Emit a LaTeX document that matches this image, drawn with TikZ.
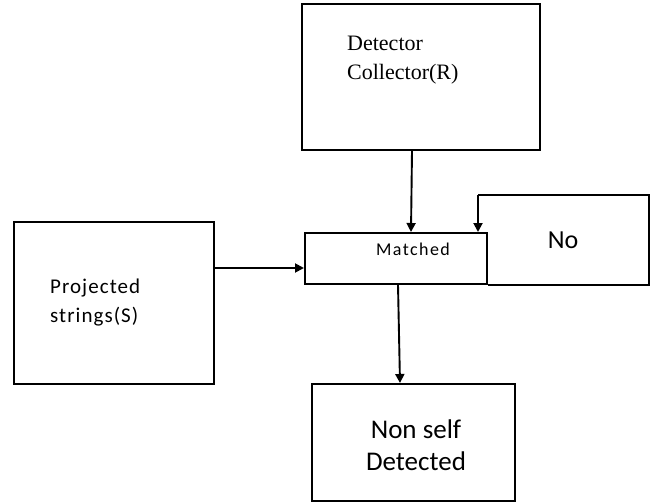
\documentclass[tikz,border=0pt]{standalone}
\usepackage{fontspec}
\setmainfont{Carlito}
\newfontfamily\serifface{Liberation Serif}
\usetikzlibrary{arrows.meta}
\begin{document}
\begin{tikzpicture}[x=1pt,y=-1pt,
  box/.style={draw,line width=1.9pt,inner sep=0pt},
  conn/.style={line width=1.9pt,-{Triangle[length=9pt,width=9pt]}},
  plain/.style={line width=1.9pt}]
\useasboundingbox (0,0) rectangle (656,503);
% boxes
\node[box,minimum width=238pt,minimum height=146pt,anchor=north west] (det) at (301,3) {};
\node[box,minimum width=182pt,minimum height=51pt,anchor=north west] (match) at (304,232) {};
\node[box,minimum width=200pt,minimum height=162pt,anchor=north west] (proj) at (13,221) {};
\node[box,minimum width=203pt,minimum height=117pt,anchor=north west] (nons) at (311,383) {};
% texts
\node[anchor=west,font=\serifface\fontsize{22}{29}\selectfont,align=left,inner sep=0pt] (dett) at (347,60) {Detector\\Collector(R)};
\node[font=\fontsize{18}{20}\selectfont\addfontfeature{LetterSpace=8}] (matcht) at (413,249) {Matched};
\node[font=\fontsize{26}{30}\selectfont] (not) at (563,240) {No};
\node[anchor=west,font=\fontsize{21}{29}\selectfont\addfontfeature{LetterSpace=5},align=left,inner sep=0pt] (projt) at (50,303) {Projected\\strings(S)};
\node[font=\fontsize{27}{32}\selectfont,align=center] (nonst) at (416,445) {Non self\\Detected};
% No loop
\coordinate (n1) at (649,195);
\coordinate (n2) at (649,285);
\coordinate (n3) at (488,285);
\coordinate (n0) at (478,195);
\coordinate (n4) at (478,232);
\draw[plain] (n3) -- (n2) -- (n1) -- (n0);
\draw[conn] (n0) -- (n4);
% connectors
\draw[conn] (det.south -| 412,0) -- (match.north -| 411,0);
\draw[conn] (proj.east |- 0,268) -- (match.west |- 0,268);
\draw[conn] (match.south -| 398,0) -- (nons.north -| 400,0);
\end{tikzpicture}
\end{document}
